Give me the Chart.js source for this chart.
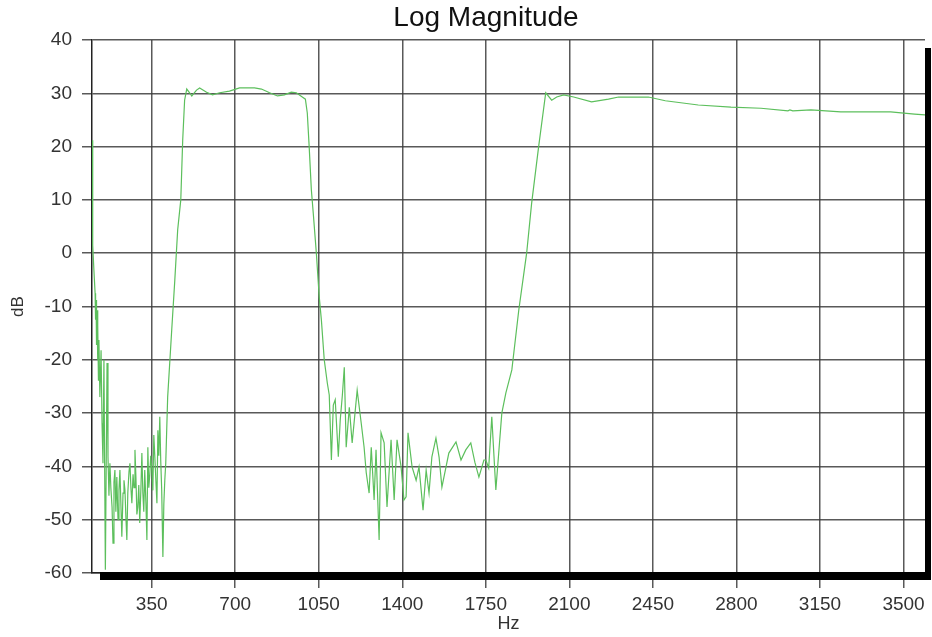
<!DOCTYPE html>
<html>
<head>
<meta charset="utf-8">
<script src="https://cdn.jsdelivr.net/npm/chart.js@4.4.1/dist/chart.umd.min.js"></script>
<style>
  body { margin: 0; background: #fff; }
  #wrap { width: 932px; height: 637px; }
</style>
</head>
<body>
<div id="wrap"><canvas id="logmag" width="932" height="637"></canvas></div>
<script>
// frequency (Hz) and magnitude (dB)
const freqHz = [
  100, 102, 104, 108, 113, 115, 117, 119, 121, 123, 125, 127, 129, 133, 138, 142,
  146, 150, 156, 163, 167, 171, 175, 179, 184, 188, 192, 196, 200, 204, 209, 213, 217, 221, 225, 230, 234, 238, 242, 246,
  250, 255, 259, 263, 267, 272, 276, 280, 284, 288, 292, 296, 300, 305, 309, 313, 317, 321, 326, 330, 334, 338, 342, 346, 351, 355, 359, 363, 367, 372, 376, 380, 384,
  388, 392, 397, 401, 405, 409, 417, 434, 447, 459, 472, 480, 488, 497, 509, 518, 538, 551,
  580, 605, 635, 676, 718, 781, 810, 844, 877, 906, 935, 956, 981, 994, 1002, 1010,
  1019, 1027, 1040, 1052, 1061, 1073, 1086, 1094, 1103, 1111, 1119, 1132, 1140, 1149, 1157, 1165,
  1178, 1190, 1211, 1228, 1240, 1249, 1261, 1270, 1282, 1290, 1303, 1311, 1324, 1336, 1353, 1366,
  1378, 1395, 1407, 1416, 1424, 1441, 1458, 1470, 1487, 1500, 1512, 1524, 1541, 1554, 1566, 1595,
  1625, 1646, 1666, 1687, 1704, 1721, 1742, 1750, 1762, 1775, 1792, 1804, 1817, 1834, 1859, 1888,
  1921, 1942, 1971, 2001, 2026, 2047, 2076, 2118, 2193, 2264, 2306, 2431, 2502, 2640, 2777, 2903,
  3016, 3024, 3036, 3112, 3237, 3279, 3446, 3546, 3600
];
const magDb = [
  21.2, 10, 1.5, -3.2, -7.5, -12.5, -8.8, -17.2, -10.7, -20, -13.5, -23.8, -16.3, -27, -18.2, -31.9,
  -39.4, -20, -59.4, -20.6, -38.2, -45.5, -39.4, -44, -47.6, -54.4, -43, -40.7, -48.5, -42, -50, -44.5, -40.7, -47, -53.2, -45, -42.6, -44.4, -49.5, -53.8,
  -45, -41, -39.4, -44, -46.9, -41.5, -44, -36.9, -42, -49, -47.6, -43.5, -50.6, -44, -37.5, -45, -48.5, -40.7, -47, -53.8, -36.4, -44, -41.6, -38, -40.7, -44.5, -34.1, -37.9, -42, -46.9, -33.2, -38, -30.7,
  -39, -44.4, -57, -47, -42.6, -39.4, -27, -14.4, -5, 4.4, 10, 21.2, 28.7, 30.8, 30.1, 29.5, 30.6, 31,
  30.2, 29.7, 30.1, 30.4, 31, 31, 30.8, 30.1, 29.5, 29.7, 30.2, 30.1, 29.3, 28.9, 26.3, 19.9,
  11.9, 7.5, 0, -8.2, -12.5, -20, -24.4, -26.6, -38.8, -28.5, -27.5, -38.2, -31.3, -26.6, -21.4, -36.4,
  -28.9, -35.6, -25.7, -31.9, -36.4, -41.2, -45, -36.4, -46.3, -36.9, -53.8, -33.7, -35.6, -47.6, -35, -46.3,
  -35, -40.1, -46.3, -45.7, -33.7, -40.1, -42.6, -40.1, -48.2, -40.7, -45, -38.2, -34.7, -38.2, -43.9, -37.5,
  -35.4, -38.8, -36.9, -35.6, -39.2, -42, -38.8, -38.8, -40.3, -30.7, -44.4, -37.5, -30, -26.2, -21.9, -10.7,
  0, 9.4, 19.9, 30.1, 28.7, 29.3, 29.7, 29.3, 28.4, 28.9, 29.3, 29.3, 28.6, 27.8, 27.4, 27.2,
  26.7, 26.9, 26.7, 26.9, 26.5, 26.5, 26.5, 26.1, 25.9
];
const xTickValues = [350, 700, 1050, 1400, 1750, 2100, 2450, 2800, 3150, 3500];
const yTickValues = [-60, -50, -40, -30, -20, -10, 0, 10, 20, 30, 40];

const points = freqHz.map((f, i) => ({ x: f, y: magDb[i] }));

// title drawn by hand so it can sit where the original has it
const titlePlugin = {
  id: 'plotTitle',
  afterDraw(chart) {
    const ctx = chart.ctx;
    ctx.save();
    ctx.font = '28px "Liberation Sans", Arial, sans-serif';
    ctx.fillStyle = '#111';
    ctx.textAlign = 'center';
    ctx.textBaseline = 'middle';
    ctx.fillText('Log Magnitude', 486, 18);
    ctx.restore();
  }
};

// the thick black drop shadow along bottom and right of the plot box
const shadowPlugin = {
  id: 'boxShadow',
  afterDatasetsDraw(chart) {
    const a = chart.chartArea;
    const ctx = chart.ctx;
    ctx.save();
    ctx.fillStyle = '#000';
    ctx.fillRect(a.left + 8, a.bottom - 1, a.right - a.left - 2, 8);
    ctx.fillRect(a.right, a.top + 8, 6, a.bottom - a.top - 1);
    ctx.restore();
  }
};

const gridColor = 'rgba(60,60,60,0.85)';
const textColor = '#333';

new Chart(document.getElementById('logmag').getContext('2d'), {
  type: 'line',
  data: {
    datasets: [{
      data: points,
      borderColor: '#5cbf5c',
      borderWidth: 1.2,
      pointRadius: 0,
      tension: 0,
      fill: false
    }]
  },
  options: {
    responsive: false,
    animation: false,
    layout: { padding: { top: 40, right: 7, left: 0, bottom: 0 } },
    plugins: {
      legend: { display: false },
      title: { display: false },
      tooltip: { enabled: false }
    },
    scales: {
      x: {
        type: 'linear',
        min: 100,
        max: 3590,
        afterBuildTicks: (s) => { s.ticks = xTickValues.map(v => ({ value: v })); },
        afterFit: (s) => { s.height = 64; },
        ticks: {
          color: textColor,
          font: { family: '"Liberation Sans", Arial, sans-serif', size: 19 },
          padding: 5,
          maxRotation: 0,
          autoSkip: false,
          callback: (v) => String(v)
        },
        grid: { color: gridColor, lineWidth: 1.5, tickLength: 15 },
        border: { color: '#222', width: 1.5 },
        title: {
          display: true,
          text: 'Hz',
          color: textColor,
          font: { family: '"Liberation Sans", Arial, sans-serif', size: 18 },
          padding: { top: 0, bottom: 2 }
        }
      },
      y: {
        min: -60,
        max: 40,
        afterBuildTicks: (s) => { s.ticks = yTickValues.map(v => ({ value: v })); },
        afterFit: (s) => { s.width = 92; },
        ticks: {
          color: textColor,
          font: { family: '"Liberation Sans", Arial, sans-serif', size: 19 },
          padding: 10,
          callback: (v) => String(v)
        },
        grid: { color: gridColor, lineWidth: 1.5, tickLength: 10 },
        border: { color: '#222', width: 1.5 },
        title: {
          display: true,
          text: 'dB',
          color: textColor,
          font: { family: '"Liberation Sans", Arial, sans-serif', size: 17 },
          padding: { top: 8, bottom: 0 }
        }
      }
    }
  },
  plugins: [titlePlugin, shadowPlugin]
});
</script>
</body>
</html>
